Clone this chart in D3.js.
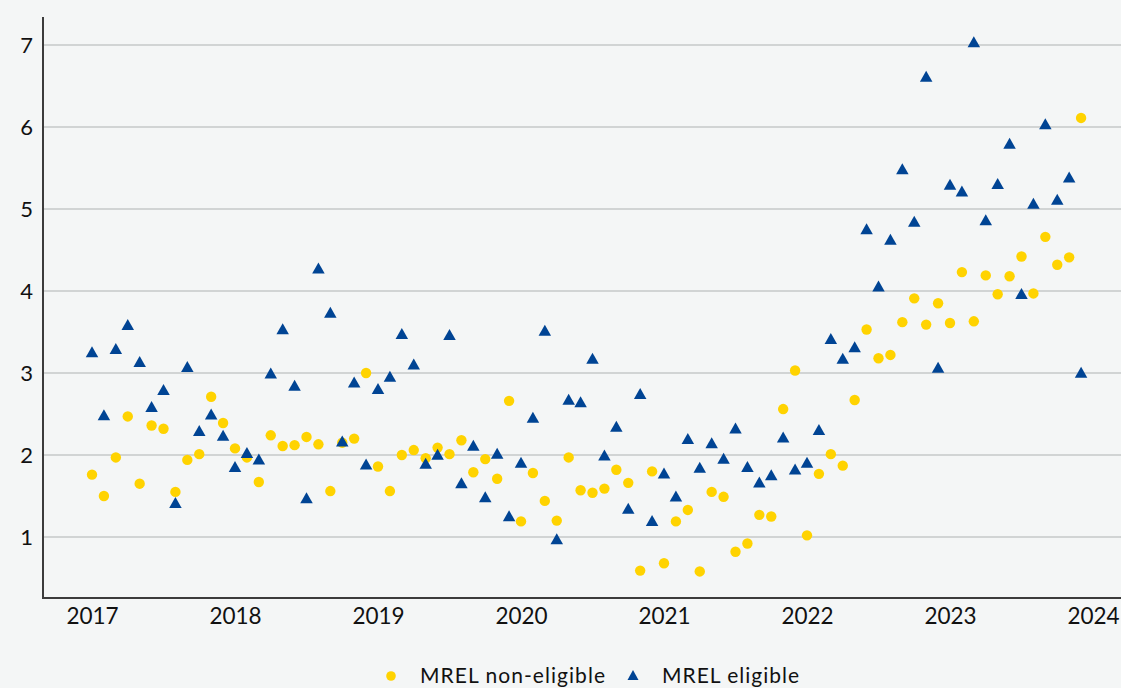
<!DOCTYPE html>
<html>
<head>
<meta charset="utf-8">
<script src="https://cdn.jsdelivr.net/npm/d3@7"></script>
<style>
  html, body { margin: 0; padding: 0; background: #f4f6f6; }
  svg { display: block; }
  text { font-family: Lato, "Open Sans", sans-serif; fill: #111; }
</style>
</head>
<body>
<svg id="chart" width="1121" height="688"></svg>
<script>
// ---- data (monthly, Jan 2017 – Dec 2023) ----
const years = ["2017", "2018", "2019", "2020", "2021", "2022", "2023", "2024"];
const yTicks = [1, 2, 3, 4, 5, 6, 7];
const seriesNames = ["MREL non-eligible", "MREL eligible"];

const nonEligible = [
  1.76, 1.50, 1.97, 2.47, 1.65, 2.36, 2.32, 1.55, 1.94, 2.01, 2.71, 2.39,
  2.08, 1.97, 1.67, 2.24, 2.11, 2.12, 2.22, 2.13, 1.56, 2.15, 2.20, 3.00,
  1.86, 1.56, 2.00, 2.06, 1.96, 2.09, 2.01, 2.18, 1.79, 1.95, 1.71, 2.66,
  1.19, 1.78, 1.44, 1.20, 1.97, 1.57, 1.54, 1.59, 1.82, 1.66, 0.59, 1.80,
  0.68, 1.19, 1.33, 0.58, 1.55, 1.49, 0.82, 0.92, 1.27, 1.25, 2.56, 3.03,
  1.02, 1.77, 2.01, 1.87, 2.67, 3.53, 3.18, 3.22, 3.62, 3.91, 3.59, 3.85,
  3.61, 4.23, 3.63, 4.19, 3.96, 4.18, 4.42, 3.97, 4.66, 4.32, 4.41, 6.11
];
const eligible = [
  3.26, 2.49, 3.30, 3.59, 3.14, 2.59, 2.80, 1.42, 3.08, 2.30, 2.50, 2.24,
  1.86, 2.03, 1.95, 3.00, 3.54, 2.85, 1.48, 4.28, 3.74, 2.17, 2.89, 1.89,
  2.81, 2.96, 3.48, 3.11, 1.90, 2.01, 3.47, 1.66, 2.12, 1.49, 2.02, 1.26,
  1.91, 2.46, 3.52, 0.98, 2.68, 2.65, 3.18, 2.00, 2.35, 1.35, 2.75, 1.20,
  1.78, 1.50, 2.20, 1.85, 2.15, 1.96, 2.33, 1.86, 1.67, 1.76, 2.22, 1.83,
  1.91, 2.31, 3.42, 3.18, 3.32, 4.76, 4.06, 4.63, 5.49, 4.85, 6.62, 3.07,
  5.30, 5.22, 7.04, 4.87, 5.31, 5.80, 3.97, 5.07, 6.04, 5.12, 5.39, 3.01
];

// ---- layout ----
const plotLeft = 43, plotRight = 1121, plotTop = 17, plotBottom = 598;
const YELLOW = "#ffd300", BLUE = "#004494";
const FONT = "Lato, 'Open Sans', sans-serif";

const svg = d3.select("#chart");

const x = d3.scaleLinear().domain([0, 84]).range([92, 1093]);
const y = d3.scaleLinear().domain([0.256, 7.341]).range([plotBottom, plotTop]);

// gridlines
svg.append("g").selectAll("line").data(yTicks).join("line")
  .attr("x1", plotLeft).attr("x2", plotRight)
  .attr("y1", d => y(d)).attr("y2", d => y(d))
  .attr("stroke", "#c6c8c8").attr("stroke-width", 1.5);

// y axis labels
const yAxis = d3.axisLeft(y).tickValues(yTicks).tickSize(0).tickPadding(10).tickFormat(d3.format("d"));
const gy = svg.append("g").attr("transform", `translate(${plotLeft},0)`).call(yAxis);
gy.select(".domain").remove();
gy.selectAll("text").attr("font-size", 22).attr("fill", "#111").style("font-family", FONT);

// x axis labels
const xAxis = d3.axisBottom(x).tickValues(d3.range(0, 85, 12)).tickSize(0)
  .tickFormat((d, i) => years[i]);
const gx = svg.append("g").attr("transform", `translate(0,${plotBottom})`).call(xAxis);
gx.select(".domain").remove();
gx.selectAll("text").attr("font-size", 22.5).attr("fill", "#111").style("font-family", FONT)
  .attr("y", 26).attr("dy", "0");

// axis lines
svg.append("line").attr("x1", plotLeft).attr("x2", plotLeft)
  .attr("y1", plotTop).attr("y2", plotBottom + 1)
  .attr("stroke", "#3c3c3c").attr("stroke-width", 2);
svg.append("line").attr("x1", plotLeft - 1).attr("x2", plotRight)
  .attr("y1", plotBottom).attr("y2", plotBottom)
  .attr("stroke", "#3c3c3c").attr("stroke-width", 2);

// triangle centred on its bounding box
function tri(cx, cy, w, h) {
  return `M${cx},${cy - h / 2}L${cx + w / 2},${cy + h / 2}L${cx - w / 2},${cy + h / 2}Z`;
}

// yellow circles
svg.append("g").selectAll("circle").data(nonEligible).join("circle")
  .attr("cx", (d, i) => x(i)).attr("cy", d => y(d)).attr("r", 5.2)
  .attr("fill", YELLOW);

// blue triangles
svg.append("g").selectAll("path").data(eligible).join("path")
  .attr("d", (d, i) => tri(x(i), y(d), 12.5, 11))
  .attr("fill", BLUE);

// legend
const leg = svg.append("g");
leg.append("circle").attr("cx", 391).attr("cy", 676).attr("r", 4.8).attr("fill", YELLOW);
leg.append("text").attr("x", 420).attr("y", 683).attr("font-size", 21)
  .attr("textLength", 185).attr("lengthAdjust", "spacing").text(seriesNames[0]);
leg.append("path").attr("d", tri(633, 675, 11, 10)).attr("fill", BLUE);
leg.append("text").attr("x", 662).attr("y", 683).attr("font-size", 21)
  .attr("textLength", 137).attr("lengthAdjust", "spacing").text(seriesNames[1]);
</script>
</body>
</html>
